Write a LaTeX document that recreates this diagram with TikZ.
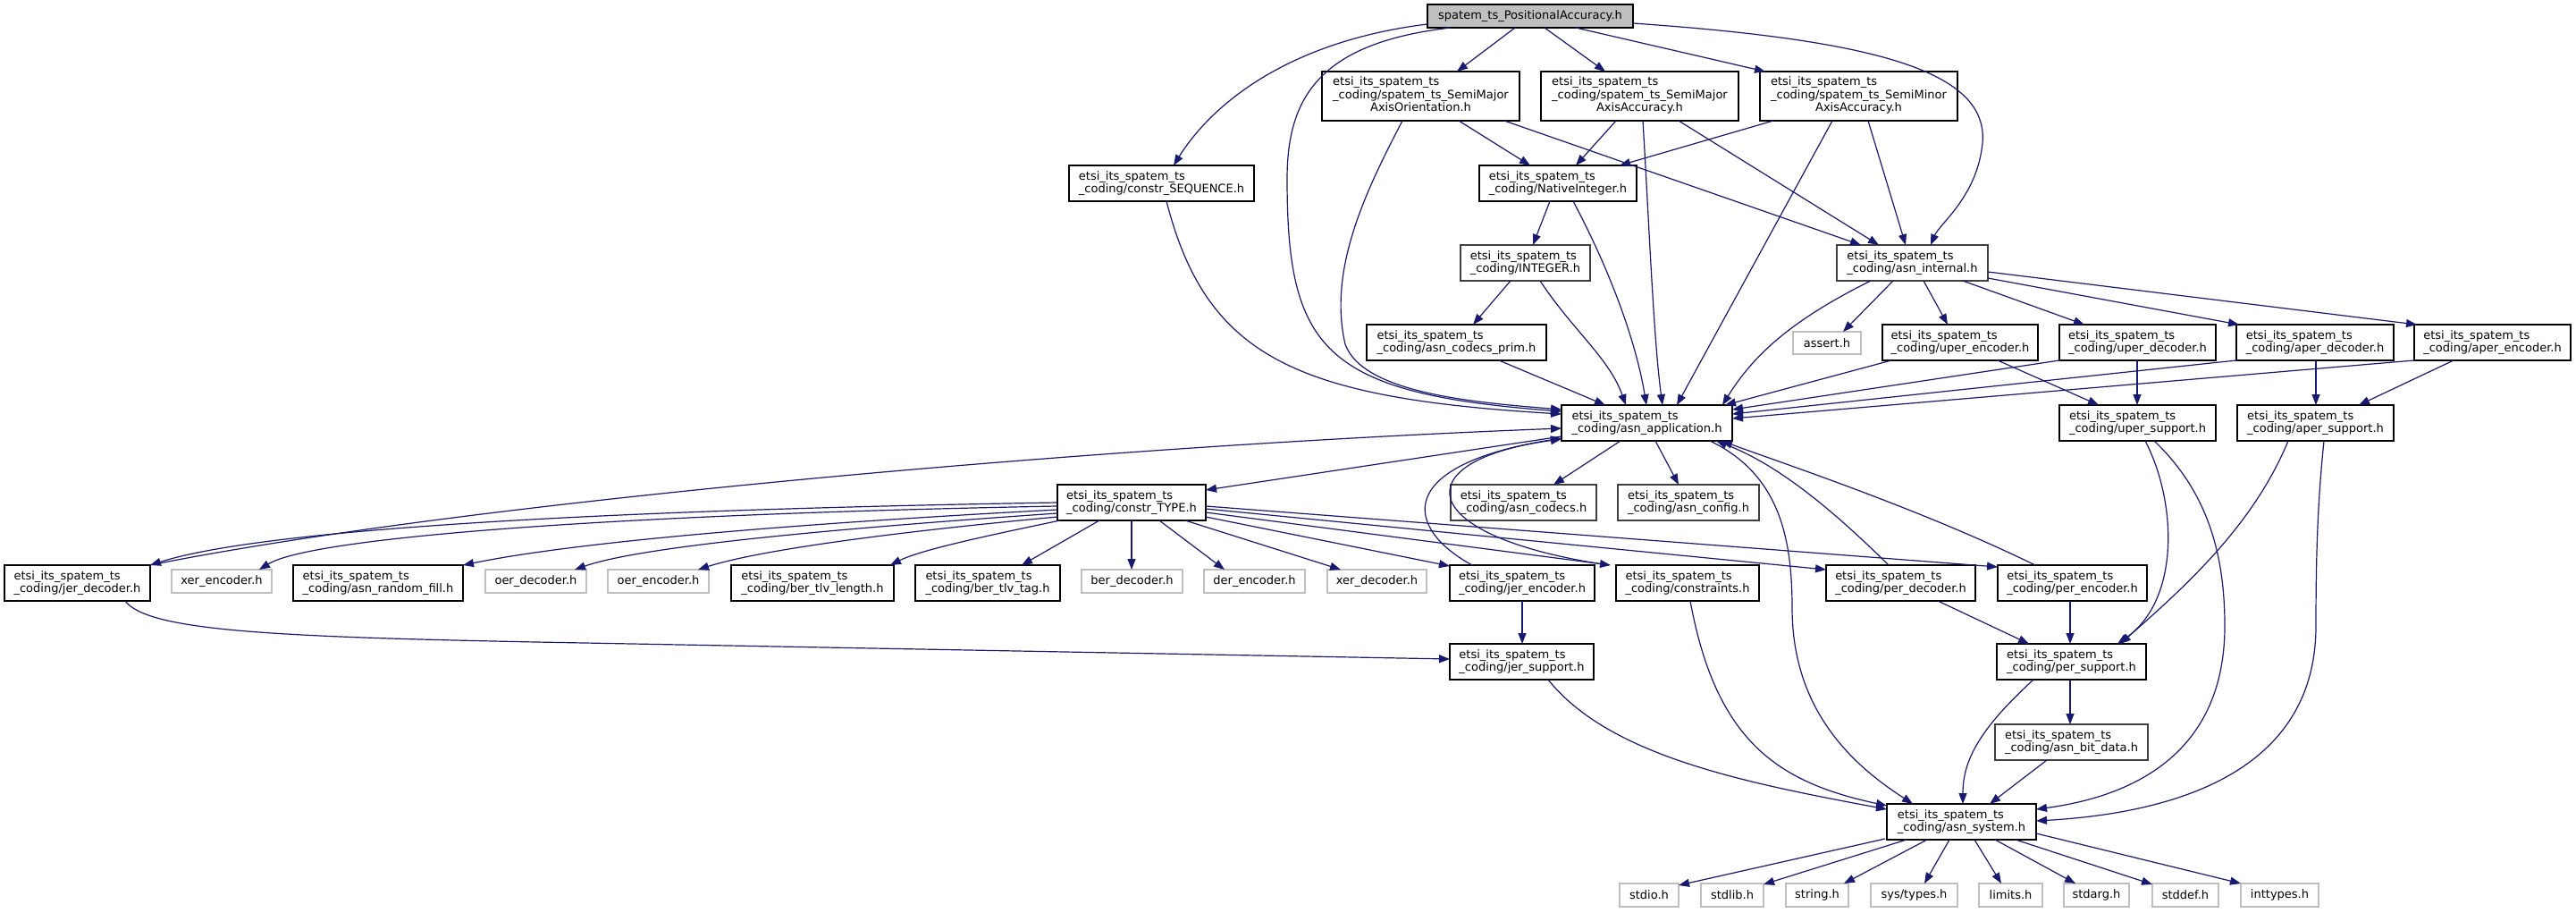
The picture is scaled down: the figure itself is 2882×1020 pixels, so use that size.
\documentclass[tikz,border=0pt]{standalone}
\usepackage{fontspec}
\setmainfont{DejaVu Sans}
\usetikzlibrary{arrows.meta}
\definecolor{edgeblue}{HTML}{191970}
\definecolor{topgrey}{HTML}{BFBFBF}
\definecolor{lgrey}{HTML}{BFBFBF}
\definecolor{dgrey}{HTML}{404040}
\newcommand{\nodefont}{\fontsize{13pt}{14.5pt}\selectfont}
\newcommand{\hbx}[7]{\expandafter\def\csname nx#1\endcsname{#2}\expandafter\def\csname ny#1\endcsname{#3}\node[#6, minimum width={(#4-#2)*1pt}, minimum height={(#5-#3)*1pt}] (#1) at ({(#2+#4)/2},{(#3+#5)/2}) {#7};}
\newcommand{\nd}[3]{([xshift={(#2-\csname nx#1\endcsname)*1pt},yshift={(\csname ny#1\endcsname-#3)*1pt}]#1.north west)}
\newcommand{\edg}[1]{\edef\tmpE{\noexpand\draw[dep] #1;}\tmpE}
\newcommand{\threel}[3]{\begin{tabular}{@{}l@{}}#1\\#2\\\multicolumn{1}{@{}c@{}}{#3}\end{tabular}}
\newcommand{\ets}{etsi\_its\_spatem\_ts}
\begin{document}
\begin{tikzpicture}[x=1pt,y=-1pt,
  box/.style={draw=black, line width=1.3pt, fill=white, inner sep=2pt, outer sep=0pt, align=left, font=\nodefont},
  gbox/.style={box, draw=dgrey, line width=2pt},
  ext/.style={box, draw=lgrey},
  topbox/.style={box, fill=topgrey},
  dep/.style={draw=edgeblue, line width=1.2pt, -{Triangle[length=12pt,width=9pt]}}]
\fill[white] (0,0) rectangle (2882,1020);
\useasboundingbox (0,0) rectangle (2882,1020);
% nodes
\hbx{top}{1597}{5}{1827}{31}{topbox}{spatem\_ts\_PositionalAccuracy.h}
\hbx{SMAO}{1479}{80}{1700}{135}{box}{\threel{\ets}{\_coding/spatem\_ts\_SemiMajor}{AxisOrientation.h}}
\hbx{SMAA}{1724}{80}{1945}{135}{box}{\threel{\ets}{\_coding/spatem\_ts\_SemiMajor}{AxisAccuracy.h}}
\hbx{SMIA}{1969}{80}{2190}{135}{box}{\threel{\ets}{\_coding/spatem\_ts\_SemiMinor}{AxisAccuracy.h}}
\hbx{SEQ}{1196}{185}{1403}{225}{box}{\ets\\\_coding/constr\_SEQUENCE.h}
\hbx{NI}{1655}{185}{1831}{225}{box}{\ets\\\_coding/NativeInteger.h}
\hbx{INT}{1634}{274}{1779}{314}{gbox}{\ets\\\_coding/INTEGER.h}
\hbx{AI}{2055}{274}{2224}{314}{gbox}{\ets\\\_coding/asn\_internal.h}
\hbx{ACP}{1529}{363}{1730}{403}{box}{\ets\\\_coding/asn\_codecs\_prim.h}
\hbx{ASSERT}{2006}{371}{2082}{396}{ext}{assert.h}
\hbx{UE}{2106}{363}{2280}{403}{box}{\ets\\\_coding/uper\_encoder.h}
\hbx{UD}{2304}{363}{2479}{403}{box}{\ets\\\_coding/uper\_decoder.h}
\hbx{AD}{2502}{363}{2678}{403}{box}{\ets\\\_coding/aper\_decoder.h}
\hbx{AE}{2701}{363}{2876}{403}{box}{\ets\\\_coding/aper\_encoder.h}
\hbx{US}{2304}{453}{2479}{493}{box}{\ets\\\_coding/uper\_support.h}
\hbx{AS}{2503}{453}{2678}{493}{box}{\ets\\\_coding/aper\_support.h}
\hbx{AA}{1747}{453}{1938}{493}{box}{\ets\\\_coding/asn\_application.h}
\hbx{CT}{1183}{542}{1349}{582}{box}{\ets\\\_coding/constr\_TYPE.h}
\hbx{AC}{1623}{542}{1786}{582}{gbox}{\ets\\\_coding/asn\_codecs.h}
\hbx{ACF}{1810}{542}{1968}{582}{gbox}{\ets\\\_coding/asn\_config.h}
\hbx{JD}{5}{632}{168}{672}{box}{\ets\\\_coding/jer\_decoder.h}
\hbx{XE}{192}{637}{304}{663}{ext}{xer\_encoder.h}
\hbx{ARF}{328}{632}{518}{672}{box}{\ets\\\_coding/asn\_random\_fill.h}
\hbx{OD}{543}{637}{656}{663}{ext}{oer\_decoder.h}
\hbx{OE}{680}{637}{793}{663}{ext}{oer\_encoder.h}
\hbx{BTL}{818}{632}{1000}{672}{box}{\ets\\\_coding/ber\_tlv\_length.h}
\hbx{BTT}{1024}{632}{1186}{672}{box}{\ets\\\_coding/ber\_tlv\_tag.h}
\hbx{BD}{1210}{637}{1323}{663}{ext}{ber\_decoder.h}
\hbx{DE}{1347}{637}{1460}{663}{ext}{der\_encoder.h}
\hbx{XD}{1485}{637}{1596}{663}{ext}{xer\_decoder.h}
\hbx{JE}{1622}{632}{1784}{672}{box}{\ets\\\_coding/jer\_encoder.h}
\hbx{CON}{1808}{632}{1968}{672}{box}{\ets\\\_coding/constraints.h}
\hbx{PD}{2043}{632}{2210}{672}{box}{\ets\\\_coding/per\_decoder.h}
\hbx{PE}{2235}{632}{2402}{672}{box}{\ets\\\_coding/per\_encoder.h}
\hbx{JS}{1622}{720}{1783}{760}{box}{\ets\\\_coding/jer\_support.h}
\hbx{PS}{2234}{720}{2401}{760}{box}{\ets\\\_coding/per\_support.h}
\hbx{ABD}{2232}{810}{2403}{850}{gbox}{\ets\\\_coding/asn\_bit\_data.h}
\hbx{SYS}{2111}{899}{2278}{939}{box}{\ets\\\_coding/asn\_system.h}
\hbx{stdio}{1812}{988}{1878}{1014}{ext}{stdio.h}
\hbx{stdlib}{1903}{988}{1973}{1014}{ext}{stdlib.h}
\hbx{string}{1998}{988}{2068}{1014}{ext}{string.h}
\hbx{systypes}{2093}{988}{2190}{1014}{ext}{sys/types.h}
\hbx{limits}{2214}{988}{2285}{1014}{ext}{limits.h}
\hbx{stdarg}{2309}{988}{2382}{1014}{ext}{stdarg.h}
\hbx{stddef}{2408}{988}{2482}{1014}{ext}{stddef.h}
\hbx{inttypes}{2507}{988}{2594}{1014}{ext}{inttypes.h}
% edges
\edg{\nd{top}{1597}{27} .. controls (1450,45) and (1360,110) .. \nd{SEQ}{1313}{185}}
\edg{\nd{top}{1623}{31} .. controls (1475,48) and (1440,110) .. (1440,200) .. controls (1440,390) and (1480,440) .. \nd{AA}{1747}{460}}
\edg{\nd{top}{1695}{31} -- \nd{SMAO}{1630}{80}}
\edg{\nd{top}{1728}{31} -- \nd{SMAA}{1796}{80}}
\edg{\nd{top}{1763}{31} -- \nd{SMIA}{1975}{80}}
\edg{\nd{top}{1827}{26} .. controls (2100,45) and (2225,80) .. (2218,160) .. controls (2212,220) and (2170,250) .. \nd{AI}{2160}{274}}
\edg{\nd{SMAO}{1632}{135} -- \nd{NI}{1712}{185}}
\edg{\nd{SMAO}{1683}{135} -- \nd{AI}{2082}{274}}
\edg{\nd{SMAO}{1569}{135} .. controls (1530,210) and (1485,300) .. (1505,385) .. controls (1525,440) and (1650,450) .. \nd{AA}{1747}{458}}
\edg{\nd{SEQ}{1305}{225} .. controls (1350,400) and (1450,445) .. \nd{AA}{1747}{463}}
\edg{\nd{SMAA}{1808}{135} -- \nd{NI}{1763}{185}}
\edg{\nd{SMAA}{1838}{135} .. controls (1845,250) and (1850,380) .. \nd{AA}{1860}{453}}
\edg{\nd{SMAA}{1878}{135} -- \nd{AI}{2102}{274}}
\edg{\nd{SMIA}{1984}{135} -- \nd{NI}{1812}{185}}
\edg{\nd{SMIA}{2090}{135} -- \nd{AI}{2132}{274}}
\edg{\nd{SMIA}{2050}{135} -- \nd{AA}{1876}{453}}
\edg{\nd{NI}{1734}{225} -- \nd{INT}{1715}{274}}
\edg{\nd{NI}{1760}{225} .. controls (1800,300) and (1830,380) .. \nd{AA}{1842}{453}}
\edg{\nd{INT}{1690}{314} -- \nd{ACP}{1648}{363}}
\edg{\nd{INT}{1723}{314} .. controls (1760,370) and (1800,400) .. \nd{AA}{1819}{453}}
\edg{\nd{ACP}{1677}{403} -- \nd{AA}{1796}{453}}
\edg{\nd{AI}{2093}{314} .. controls (2000,360) and (1960,400) .. \nd{AA}{1927}{453}}
\edg{\nd{AI}{2118}{314} -- \nd{ASSERT}{2062}{371}}
\edg{\nd{AI}{2152}{314} -- \nd{UE}{2179}{363}}
\edg{\nd{AI}{2196}{314} -- \nd{UD}{2332}{363}}
\edg{\nd{AI}{2224}{311} -- \nd{AD}{2505}{363}}
\edg{\nd{AI}{2224}{304} -- \nd{AE}{2704}{363}}
\edg{\nd{UE}{2116}{403} -- \nd{AA}{1930}{453}}
\edg{\nd{UD}{2304}{403} -- \nd{AA}{1938}{458}}
\edg{\nd{AD}{2502}{403} -- \nd{AA}{1938}{463}}
\edg{\nd{AE}{2701}{403} -- \nd{AA}{1938}{468}}
\edg{\nd{UE}{2235}{403} -- \nd{US}{2348}{453}}
\edg{\nd{UD}{2391}{403} -- \nd{US}{2391}{453}}
\edg{\nd{AD}{2591}{403} -- \nd{AS}{2591}{453}}
\edg{\nd{AE}{2745}{403} -- \nd{AS}{2639}{453}}
\edg{\nd{US}{2400}{493} .. controls (2435,560) and (2440,670) .. \nd{PS}{2369}{720}}
\edg{\nd{US}{2410}{493} .. controls (2470,550) and (2489,620) .. (2489,700) .. controls (2489,840) and (2390,890) .. \nd{SYS}{2278}{905}}
\edg{\nd{AS}{2560}{493} .. controls (2520,590) and (2440,660) .. \nd{PS}{2372}{720}}
\edg{\nd{AS}{2600}{493} .. controls (2593,560) and (2591,620) .. (2591,700) .. controls (2591,870) and (2420,910) .. \nd{SYS}{2278}{918}}
\edg{\nd{AA}{1747}{488} -- \nd{CT}{1349}{548}}
\edg{\nd{AA}{1813}{493} -- \nd{AC}{1738}{542}}
\edg{\nd{AA}{1852}{493} -- \nd{ACF}{1878}{542}}
\edg{\nd{AA}{1913}{493} .. controls (1990,530) and (2005,600) .. (2005,680) .. controls (2005,800) and (2080,860) .. \nd{SYS}{2140}{899}}
\edg{\nd{JD}{168}{632} .. controls (500,565) and (1200,500) .. \nd{AA}{1747}{479}}
\edg{\nd{JE}{1647}{632} .. controls (1570,590) and (1560,520) .. \nd{AA}{1747}{490}}
\edg{\nd{CON}{1800}{632} .. controls (1580,600) and (1570,515) .. \nd{AA}{1747}{491}}
\edg{\nd{PD}{2113}{632} .. controls (2050,570) and (1990,520) .. \nd{AA}{1920}{493}}
\edg{\nd{PE}{2277}{632} .. controls (2150,570) and (2000,520) .. \nd{AA}{1926}{493}}
\edg{\nd{CT}{1183}{562} .. controls (700,570) and (300,590) .. \nd{JD}{168}{632}}
\edg{\nd{CT}{1183}{566} .. controls (700,575) and (350,600) .. \nd{XE}{290}{637}}
\edg{\nd{CT}{1183}{570} .. controls (900,585) and (650,605) .. \nd{ARF}{518}{632}}
\edg{\nd{CT}{1183}{574} .. controls (950,590) and (720,610) .. \nd{OD}{643}{637}}
\edg{\nd{CT}{1183}{578} .. controls (1000,595) and (850,615) .. \nd{OE}{781}{637}}
\edg{\nd{CT}{1186}{582} .. controls (1100,600) and (1030,615) .. \nd{BTL}{996}{632}}
\edg{\nd{CT}{1230}{582} -- \nd{BTT}{1143}{632}}
\edg{\nd{CT}{1266}{582} -- \nd{BD}{1266}{637}}
\edg{\nd{CT}{1297}{582} -- \nd{DE}{1370}{637}}
\edg{\nd{CT}{1326}{582} -- \nd{XD}{1500}{637}}
\edg{\nd{CT}{1349}{578} -- \nd{JE}{1622}{633}}
\edg{\nd{CT}{1349}{573} -- \nd{CON}{1802}{632}}
\edg{\nd{CT}{1349}{569} -- \nd{PD}{2043}{637}}
\edg{\nd{CT}{1349}{566} -- \nd{PE}{2235}{634}}
\edg{\nd{JE}{1703}{672} -- \nd{JS}{1703}{720}}
\edg{\nd{JD}{140}{672} .. controls (165,705) and (300,712) .. (600,718) -- \nd{JS}{1622}{737}}
\edg{\nd{JS}{1732}{760} .. controls (1800,845) and (1950,875) .. \nd{SYS}{2111}{905}}
\edg{\nd{CON}{1891}{672} .. controls (1920,830) and (1990,875) .. \nd{SYS}{2111}{901}}
\edg{\nd{PD}{2168}{672} -- \nd{PS}{2270}{720}}
\edg{\nd{PE}{2316}{672} -- \nd{PS}{2316}{720}}
\edg{\nd{PS}{2316}{760} -- \nd{ABD}{2316}{810}}
\edg{\nd{PS}{2275}{760} .. controls (2215,815) and (2196,850) .. \nd{SYS}{2196}{899}}
\edg{\nd{ABD}{2290}{850} -- \nd{SYS}{2226}{899}}
\edg{\nd{SYS}{2109}{938} -- \nd{stdio}{1878}{990}}
\edg{\nd{SYS}{2133}{939} -- \nd{stdlib}{1973}{989}}
\edg{\nd{SYS}{2156}{939} -- \nd{string}{2063}{988}}
\edg{\nd{SYS}{2181}{939} -- \nd{systypes}{2153}{988}}
\edg{\nd{SYS}{2209}{939} -- \nd{limits}{2239}{988}}
\edg{\nd{SYS}{2232}{939} -- \nd{stdarg}{2322}{988}}
\edg{\nd{SYS}{2255}{939} -- \nd{stddef}{2408}{989}}
\edg{\nd{SYS}{2278}{932} -- \nd{inttypes}{2507}{988}}
\end{tikzpicture}
\end{document}
